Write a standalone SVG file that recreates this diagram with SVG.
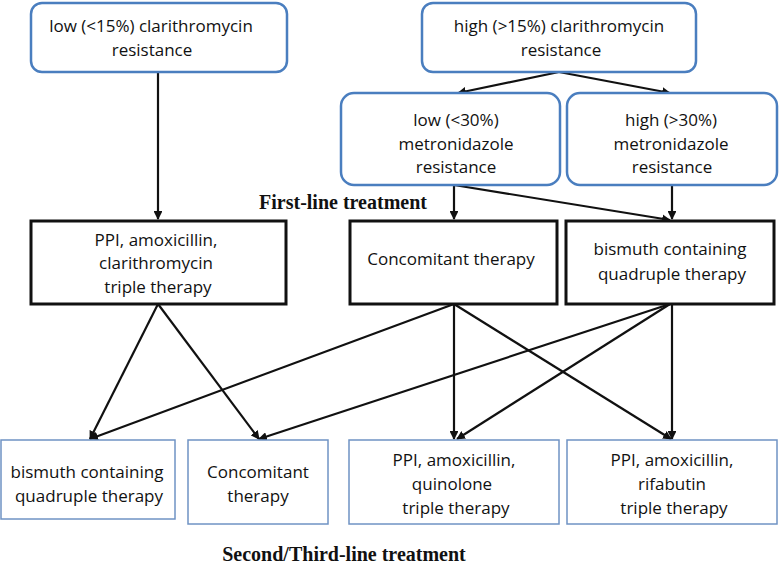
<svg xmlns="http://www.w3.org/2000/svg" width="779" height="567" viewBox="0 0 779 567">
<style>
  .t{font-family:"Open Sans","Liberation Sans",sans-serif;font-size:17px;fill:#111;text-anchor:middle}
  .h{font-family:"Liberation Serif","Times New Roman",serif;font-size:20px;font-weight:bold;fill:#111;text-anchor:middle}
  .cond{fill:#fff;stroke:#4a7ebf;stroke-width:2.5}
  .first{fill:#fff;stroke:#111;stroke-width:3}
  .second{fill:#fff;stroke:#6f93c4;stroke-width:1.5}
  .c{stroke:#111;stroke-width:2.2;fill:none;marker-end:url(#ah)}
</style>
<defs>
  <marker id="ah" viewBox="0 0 10 10" refX="9" refY="5" markerWidth="4" markerHeight="4" orient="auto" markerUnits="strokeWidth">
    <path d="M0,0 L10,5 L0,10 z" fill="#111"/>
  </marker>
</defs>
<rect width="779" height="567" fill="#fff"/>

<g id="connectors">
  <line class="c" x1="158" y1="72" x2="158" y2="219"/>
  <line class="c" x1="559" y1="72" x2="458" y2="93"/>
  <line class="c" x1="559" y1="72" x2="670" y2="93"/>
  <line class="c" x1="454" y1="185" x2="454" y2="219"/>
  <line class="c" x1="454" y1="185" x2="670" y2="220"/>
  <line class="c" x1="672" y1="185" x2="672" y2="219"/>
  <line class="c" x1="158" y1="304" x2="90" y2="439"/>
  <line class="c" x1="158" y1="304" x2="259" y2="439"/>
  <line class="c" x1="454" y1="304" x2="90" y2="439"/>
  <line class="c" x1="454" y1="304" x2="454" y2="439"/>
  <line class="c" x1="454" y1="304" x2="671" y2="439"/>
  <line class="c" x1="670" y1="304" x2="259" y2="439"/>
  <line class="c" x1="670" y1="304" x2="457" y2="439"/>
  <line class="c" x1="672" y1="304" x2="672" y2="439"/>
</g>

<g id="low-clari">
  <rect class="cond" x="31" y="3" width="256" height="69" rx="11"/>
  <text class="t" x="151" y="32">low (&lt;15%) clarithromycin</text>
  <text class="t" x="152" y="56">resistance</text>
</g>
<g id="high-clari">
  <rect class="cond" x="422" y="3" width="274" height="69" rx="11"/>
  <text class="t" x="559" y="32">high (&gt;15%) clarithromycin</text>
  <text class="t" x="561" y="56">resistance</text>
</g>
<g id="low-metro">
  <rect class="cond" x="341" y="93" width="219" height="92" rx="13"/>
  <text class="t" x="456" y="126">low (&lt;30%)</text>
  <text class="t" x="456" y="150">metronidazole</text>
  <text class="t" x="456" y="173">resistance</text>
</g>
<g id="high-metro">
  <rect class="cond" x="567" y="93" width="210" height="92" rx="13"/>
  <text class="t" x="671" y="126">high (&gt;30%)</text>
  <text class="t" x="671" y="150">metronidazole</text>
  <text class="t" x="672" y="173">resistance</text>
</g>

<text class="h" x="343" y="209">First-line treatment</text>

<g id="first-triple">
  <rect class="first" x="31" y="221" width="255" height="83"/>
  <text class="t" x="156" y="246">PPI, amoxicillin,</text>
  <text class="t" x="156" y="269">clarithromycin</text>
  <text class="t" x="158" y="293">triple therapy</text>
</g>
<g id="first-concomitant">
  <rect class="first" x="350" y="221" width="207" height="83"/>
  <text class="t" x="451" y="265">Concomitant therapy</text>
</g>
<g id="first-bismuth">
  <rect class="first" x="566" y="221" width="208" height="83"/>
  <text class="t" x="670" y="255">bismuth containing</text>
  <text class="t" x="672" y="280">quadruple therapy</text>
</g>

<g id="second-bismuth">
  <rect class="second" x="1" y="440" width="174" height="79"/>
  <text class="t" x="87" y="478">bismuth containing</text>
  <text class="t" x="89" y="502">quadruple therapy</text>
</g>
<g id="second-concomitant">
  <rect class="second" x="188" y="440" width="140" height="84"/>
  <text class="t" x="258" y="478">Concomitant</text>
  <text class="t" x="258" y="502">therapy</text>
</g>
<g id="second-quinolone">
  <rect class="second" x="349" y="440" width="210" height="84"/>
  <text class="t" x="454" y="466">PPI, amoxicillin,</text>
  <text class="t" x="452" y="490">quinolone</text>
  <text class="t" x="456" y="514">triple therapy</text>
</g>
<g id="second-rifabutin">
  <rect class="second" x="567" y="440" width="210" height="84"/>
  <text class="t" x="672" y="466">PPI, amoxicillin,</text>
  <text class="t" x="672" y="490">rifabutin</text>
  <text class="t" x="674" y="514">triple therapy</text>
</g>

<text class="h" x="344" y="561">Second/Third-line treatment</text>
</svg>
